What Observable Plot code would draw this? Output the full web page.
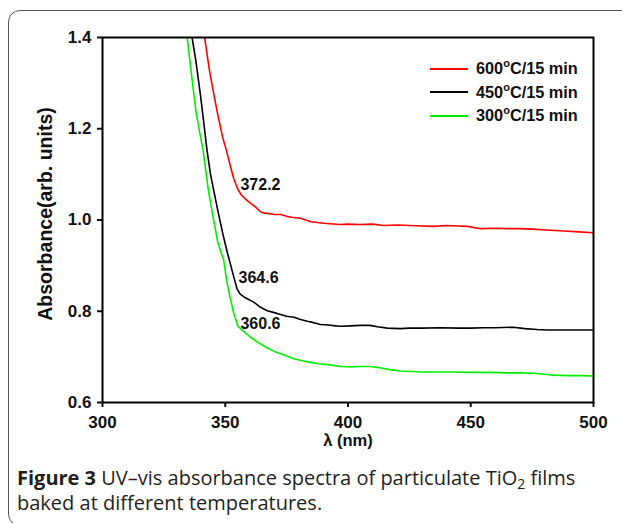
<!DOCTYPE html>
<html>
<head>
<meta charset="utf-8">
<script src="https://cdn.jsdelivr.net/npm/d3@7"></script>
<script src="https://cdn.jsdelivr.net/npm/@observablehq/plot@0.6"></script>
<style>
  html, body { margin: 0; padding: 0; background: #fff; }
  #wrap { position: relative; width: 622px; height: 523px; overflow: hidden; }
  #panel { position: absolute; left: 8px; top: 10px; width: 720px; height: 516px;
           border: 1.5px solid #555; border-radius: 12px; box-sizing: border-box; }
  #chart { position: absolute; left: 0; top: 0; }
  #legend { position: absolute; left: 430px; top: 57px; font-family: "Liberation Sans", Arial, sans-serif;
            font-weight: bold; font-size: 16.3px; color: #111; }
  .row { display: flex; align-items: center; height: 23.6px; }
  .sw { width: 38px; height: 0; border-top: 2px solid; margin-right: 8px; }
  #caption { position: absolute; left: 17px; top: 465px; width: 600px; font-family: "Open Sans", sans-serif;
             font-size: 20px; line-height: 25px; color: #231f20; }
</style>
</head>
<body>
<div id="wrap">
  <div id="panel"></div>
  <div id="chart"></div>
  <div id="legend"></div>
  <div id="caption"><b>Figure 3</b> UV–vis absorbance spectra of particulate TiO<sub style="font-size:14px;vertical-align:-4px;line-height:0">2</sub> films baked at different temperatures.</div>
</div>
<script>
const series = ["600°C/15 min", "450°C/15 min", "300°C/15 min"];
const colors = ["#ff0000", "#000000", "#00ee00"];

const redX = [341.6,343.5,345.3,347,349,350.5,352,353.5,355.1,356.5,358,360,362,364.4,366,368,370,372.5,375,377,380.6,385,390,396.9,400,405,410,414.5,420,425,430,435,440,445,448.7,454,460,465,470,475,481,488,494,500];
const redY = [1.40,1.33,1.277,1.23,1.18,1.152,1.12,1.09,1.068,1.055,1.047,1.038,1.030,1.018,1.015,1.014,1.012,1.012,1.008,1.006,1.004,0.996,0.993,0.990,0.991,0.990,0.991,0.988,0.989,0.988,0.987,0.986,0.988,0.987,0.986,0.981,0.982,0.981,0.981,0.980,0.978,0.976,0.974,0.972];

const blackX = [336.5,338,340,342.6,344,345.3,347,349,350.8,352.8,354,354.8,356,358,361.6,364,367.1,370,372.5,375,378,380,383.4,386,388.8,392,395,397,401,405,409,412,416,421.4,425,430,437.7,445,450,455,460,467.4,472,477,481,488,494,500];
const blackY = [1.40,1.35,1.27,1.152,1.10,1.065,1.02,0.97,0.93,0.889,0.865,0.849,0.838,0.830,0.820,0.810,0.801,0.797,0.793,0.789,0.787,0.783,0.778,0.775,0.771,0.770,0.768,0.767,0.768,0.769,0.769,0.766,0.763,0.762,0.763,0.763,0.764,0.763,0.763,0.764,0.764,0.765,0.762,0.760,0.759,0.759,0.759,0.759];

const greenX = [334.5,336,338,340,341,343,345.3,347,349.4,350.5,352,353.5,355.1,357,360.3,363,367,370,374,377.9,381,384.7,388,392,397,401,405,409,413,417,421.4,426,430,436,442,451,458,465,470,475.6,480,483.7,490,495,500];
const greenY = [1.40,1.33,1.24,1.18,1.152,1.07,0.999,0.95,0.911,0.87,0.83,0.795,0.768,0.758,0.743,0.733,0.720,0.712,0.704,0.696,0.692,0.688,0.685,0.683,0.679,0.678,0.679,0.679,0.676,0.672,0.669,0.668,0.667,0.667,0.667,0.666,0.666,0.665,0.665,0.664,0.662,0.660,0.659,0.659,0.658];

const annoLabels = ["372.2", "364.6", "360.6"];
const annoX = [356.2, 355.4, 356.2];
const annoY = [1.078, 0.874, 0.773];

const xTicks = [300, 350, 400, 450, 500];
const yTicks = [0.6, 0.8, 1.0, 1.2, 1.4];
const xTitle = "λ (nm)";
const yTitle = "Absorbance(arb. units)";

const toRows = (xs, ys, s) => xs.map((x, i) => ({x, y: ys[i], s}));
const data = [
  ...toRows(redX, redY, series[0]),
  ...toRows(blackX, blackY, series[1]),
  ...toRows(greenX, greenY, series[2])
];
const annos = annoLabels.map((t, i) => ({t, x: annoX[i], y: annoY[i]}));

const font = '"Liberation Sans", Arial, sans-serif';
const chart = Plot.plot({
  width: 622,
  height: 460,
  marginLeft: 102,
  marginRight: 29,
  marginTop: 37,
  marginBottom: 58,
  style: {fontFamily: font, fontWeight: "bold", fontSize: "17px", color: "#111", background: "transparent"},
  x: {domain: [300, 500]},
  y: {domain: [0.6, 1.4]},
  color: {domain: series, range: colors},
  marks: [
    Plot.line(data, {x: "x", y: "y", z: "s", stroke: "s", strokeWidth: 1.6, clip: true}),
    Plot.text(annos, {x: "x", y: "y", text: "t", textAnchor: "start", fontSize: 16, fontWeight: "bold", fill: "#111"}),
    Plot.frame({stroke: "#000", strokeWidth: 2}),
    Plot.axisX({ticks: xTicks, tickSize: 5, tickPadding: 8, strokeWidth: 2, fontSize: 17, label: null}),
    Plot.axisY({ticks: yTicks, tickSize: 5, tickPadding: 6, strokeWidth: 2, fontSize: 17, tickFormat: d3.format(".1f"), label: null}),
    Plot.text([xTitle], {frameAnchor: "bottom", lineAnchor: "middle", textAnchor: "middle", dy: 38, fontSize: 16.5, fontWeight: "bold", fill: "#111"}),
    Plot.text([yTitle], {frameAnchor: "left", lineAnchor: "middle", textAnchor: "middle", rotate: -90, dx: -57, dy: -6, fontSize: 19.5, fontWeight: "bold", fill: "#111"})
  ]
});
document.getElementById("chart").appendChild(chart);

const legend = document.getElementById("legend");
series.forEach((s, i) => {
  const row = document.createElement("div");
  row.className = "row";
  const sw = document.createElement("div");
  sw.className = "sw";
  sw.style.borderTopColor = colors[i];
  const txt = document.createElement("span");
  const parts = s.split("°");
  txt.innerHTML = parts[0] + '<sup style="font-size:11px;vertical-align:7px;line-height:0">o</sup>' + parts[1];
  row.appendChild(sw);
  row.appendChild(txt);
  legend.appendChild(row);
});
</script>
</body>
</html>
